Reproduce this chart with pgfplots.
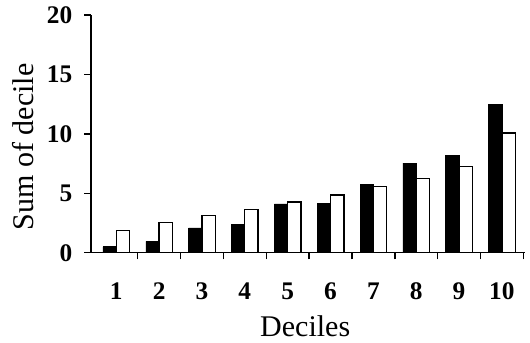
\documentclass[border=0pt]{standalone}
\usepackage{pgfplots}
\pgfplotsset{compat=1.18}
\usepackage{fontspec}
\setmainfont{Liberation Serif}
\begin{document}
\begin{tikzpicture}
\begin{axis}[
  scale only axis,
  width=325.9pt, height=178.3pt,
  xmin=0.41, xmax=10.55, ymin=0, ymax=20,
  axis x line=bottom, axis y line=left,
  axis line style={-, line width=1.1pt},
  ybar=0pt, bar width=10pt,
  xtick={1.5,2.5,...,10.5},
  xticklabels={},
  extra x ticks={1,...,10},
  extra x tick labels={1,2,3,4,5,6,7,8,9,10},
  extra x tick style={major tick length=0pt, xticklabel style={yshift=-19pt}},
  ytick={0,5,10,15,20},
  tick align=outside,
  major tick length=5pt,
  tick style={line width=1.1pt, black},
  tick label style={font=\fontsize{19}{22}\selectfont\bfseries},
  yticklabel style={xshift=-5.5pt},
  /pgf/number format/assume math mode=true,
  xlabel={Deciles},
  ylabel={Sum of decile},
  label style={font=\fontsize{22.5}{26}\selectfont},
  xlabel style={at={(axis description cs:0.493,0)}, anchor=base, inner sep=0pt, yshift=-63pt},
  ylabel style={at={(axis description cs:-0.157,0.445)}, anchor=center, rotate=0},
]
\addplot[fill=black, draw=black] coordinates {
 (1,0.5) (2,0.96) (3,2.09) (4,2.4) (5,4.1) (6,4.15) (7,5.76) (8,7.54) (9,8.22) (10,12.49)};
\addplot[fill=white, draw=black, line width=1pt] coordinates {
 (1,1.89) (2,2.54) (3,3.14) (4,3.62) (5,4.27) (6,4.86) (7,5.56) (8,6.27) (9,7.26) (10,10.08)};
\end{axis}
\pgfresetboundingbox
\path[use as bounding box] ([shift={(-68.25pt,-67pt)}]current axis.south west) rectangle ([shift={(3.4pt,11.25pt)}]current axis.north east);
\end{tikzpicture}
\end{document}
